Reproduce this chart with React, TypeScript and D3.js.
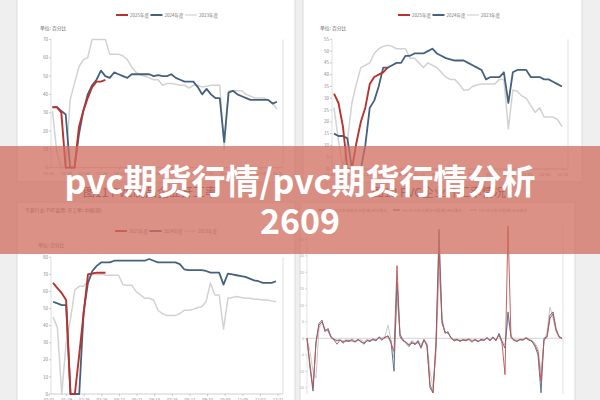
import React from 'react'
import * as d3 from 'd3'

// weekly operating rate (%), values read week by week off the picture
const red2025A = [33, 33, 30, 0, 0, 0, 22, 31, 38, 44, 47, 47, 48]
const blue2024A = [33, 33, 31, 29, 0, 0, 18, 31, 40, 45, 48, 53, 50, 49, 52, 51, 50, 49, 51, 51,
    51, 51, 51, 50, 50.5, 50, 50, 51, 49, 48, 47, 47, 47, 44, 40, 43, 40, 38, 38, 14,
    41, 42, 40, 39, 38, 37, 37, 37, 37, 37, 35, 36]
const gray2023A = [31, 8, 0, 0, 37, 46, 55, 59, 60, 70, 70, 70, 70, 62, 62, 62, 61, 59, 55, 52,
    50.6, 50, 49, 48, 48, 45, 46, 46, 45.5, 45, 45, 43.5, 45, 45, 44, 44.5, 45, 45, 45, 10,
    42, 42, 42, 42, 40, 39, 38, 38, 38, 37, 35, 32]

const red2025B = [32, 28, 18, 0, 0, 11, 20, 26, 36, 39, 40, 41, 43]
const blue2024B = [15, 14, 14, 13, 0, 0, 0, 10, 26, 29, 35, 43, 43, 44, 45, 45, 48, 48, 49, 49,
    49, 50, 51, 49, 48, 47, 46.5, 46, 46, 46, 45, 44, 43, 42, 38, 39, 39, 39, 41, 28,
    41, 42, 42, 42, 39, 39, 39, 38, 38, 37, 36, 35]
const gray2023B = [26, 12, 0, 12, 28, 36, 43, 44, 45, 49, 51, 52, 52.5, 52, 51, 51, 51, 47, 47, 45,
    43, 45, 44, 43, 41, 39, 38, 38, 36, 33.5, 33.5, 35, 35.6, 36, 36, 36, 36, 38, 38, 17,
    33.5, 33, 31, 30, 27, 24, 26, 22, 22, 22, 21, 18]

const red2025C = [65, 62, 59, 55, 0, 0, 23, 47, 70, 70.5, 71, 71, 71]
const blue2024C = [54, 53, 52, 52, 0, 0, 0, 48, 65, 72, 75, 77, 77, 77, 78, 78, 78, 78, 78, 78,
    78, 78, 79, 78, 77, 77, 77, 77, 77, 76, 73, 72.5, 72.5, 72.5, 72.5, 72, 71, 71, 71, 64,
    70.5, 70, 69.5, 69, 68.5, 67.5, 66.5, 66, 65, 65, 65, 66]
const gray2023C = [45, 39, 0, 30, 44, 61, 63, 63, 66, 70.5, 70, 70, 69.5, 69.5, 69.5, 69.5, 64, 63.7, 63.7, 60,
    58, 56, 56, 55, 49, 47, 46, 46, 46, 47, 49, 49, 49.5, 50.5, 51, 54, 65, 58, 58, 38,
    56, 56.5, 57, 56.5, 56, 56, 55.5, 55.5, 55, 55, 54.5, 54]

// week-on-week change chart (bottom right)
const redChg = [0, -8, -15, -1.5, 4, 5, 2.5, 2.5, 0.2, -0.5, -1.8, -0.6, -1, -0.9, -0.7, -0.8, -1, -0.3, -1.2, -1.4,
    -0.8, -0.6, -0.5, -0.5, 0.2, -0.6, 0.4, 0.5, -1.5, -4, 22, 0.5, -0.8, -1.2, -2, -1.5, -1.6, -1.3, -2.6, -0.4,
    -2.5, -14, -16.5, -2, 27, 4.5, 2, 1.5, 0.3, -0.8, -0.5, -0.7, -0.6, -0.5, -0.4, -1.2, -0.3, -0.9, -0.6, -0.5,
    0, -0.8, 0.2, -0.5, 1, -1.4, -11, 34, 0.2, -0.7, -0.8, -0.5, -0.4, 0, -0.6, -0.8, -2, -4, -13, -0.5,
    0.3, 6, 7.5, 2.5, 0.3, 0]
const blueChg = [0, -9, -16, -1, 4.5, 5.5, 2, 3, 0.5, -0.3, -0.8, -0.5, -1.5, -0.6, -1, -0.4, -1.2, -0.5, -0.9, -1.8,
    -0.6, -1, -0.2, -0.8, 0.4, -0.3, 0.2, 0.8, -1, -10, 17, 1, -0.5, -1.5, -2.5, -1, -2, -0.8, -3, -0.5,
    -2, -15, -16.5, -1, 33, 5.5, 1.5, 2, 0, -0.6, -0.3, -1, -0.4, -0.8, -0.2, -0.9, -0.5, -1.1, -0.3, -0.7,
    0.2, -0.6, 0.4, -0.8, 1.5, -1, -3, 8, 0.5, -0.5, -1, -0.3, -0.6, 0.2, -0.4, -1, -2.5, -5, -16.5, 0,
    0.5, 7, 8, 3, 0.5, 0]
const grayChg = [0, -4, -10, -12, 3, 5, 3, 2, 0.5, -0.2, -0.5, -0.3, -0.8, -0.4, -0.6, -0.2, -0.8, -0.4, -0.5, -1,
    -0.3, -0.7, 0, -0.5, 0.5, 0, 0.6, 4, -0.5, -6, 12, 1.5, -0.3, -1, -1.8, -0.6, -1.5, -0.5, -2, -0.3,
    -1.5, -10, -15, -5, 20, 6, 2, 1.5, 0.2, -0.4, -0.2, -0.6, -0.3, -0.5, 0, -0.6, -0.3, -0.8, -0.2, -0.4,
    0.3, -0.4, 0.5, -0.5, 1.2, -0.6, -2, 6, 0.8, -0.3, -0.6, -0.2, -0.4, 0.3, -0.2, -0.6, -1.5, -3, -10, -1,
    2, 9.5, 6, 2, 0.8, 0]

const legendLabels = ['2025年度', '2024年度', '2023年度']
const chgLegend = ['PVC:开工率:电石法:中国(周):环比变化', 'PVC:开工率:乙烯法:中国(周):环比变化', 'PVC:开工率:中国(周):环比变化']
const xLabels = ['01-01', '01-29', '02-26', '03-26', '04-23', '05-21', '06-18', '07-16', '08-13', '09-10', '10-08', '11-05', '12-03', '12-31']
const chgTicks = [-15, -10, -5, 0, 5, 10, 15, 20, 25, 30, 35]
const bannerLines = ['pvc期货行情/pvc期货行情分析', '2609']

const FONT = '"Noto Sans CJK SC", "Noto Sans", sans-serif'
const RED = '#b8322f'
const BLUE = '#45617f'
const GRAY = '#d2d2d2'

function WeeklyPanel(props) {
    const { red, blue, gray, x0, x1, yMax, yStep, yTop, yBottom, legendX, legendY, unitX, unitY, axisX, rightX, title } = props
    const x = d3.scaleLinear().domain([1, 52]).range([x0, x1])
    const y = d3.scaleLinear().domain([0, yMax]).range([yBottom, yTop])
    const line = d3.line<number>().x((d, i) => x(i + 1)).y(d => y(d))
    const xp = d3.scalePoint<string>().domain(xLabels).range([axisX - 2, rightX - 5])
    const yTicks = d3.range(0, yMax + 0.1, yStep)
    const colors = [RED, BLUE, GRAY]
    const offsets = [0, 34.5, 69]
    return (
        <g>
            {title && <text x={25} y={212} fontSize={4.8} fill="#555" fontFamily={FONT}>{title}</text>}
            {legendLabels.map((l, i) => (
                <g key={l}>
                    <line x1={legendX + offsets[i]} x2={legendX + offsets[i] + 12} y1={legendY} y2={legendY}
                          stroke={colors[i]} strokeWidth={i === 2 ? 1.2 : 2} />
                    <text x={legendX + offsets[i] + 14} y={legendY + 1.6} fontSize={4.5} fill="#777" fontFamily={FONT}>{l}</text>
                </g>
            ))}
            <text x={unitX} y={unitY} fontSize={4.8} fill="#666" fontFamily={FONT}>单位: 百分比</text>
            <line x1={axisX} x2={axisX} y1={yTop} y2={yBottom} stroke="#e0e0e0" />
            <line x1={rightX} x2={rightX} y1={yTop} y2={yBottom} stroke="#e0e0e0" />
            <line x1={axisX} x2={rightX} y1={yBottom} y2={yBottom} stroke="#cfcfcf" />
            {yTicks.map(t => (
                <g key={t}>
                    <line x1={axisX - 2} x2={axisX} y1={y(t)} y2={y(t)} stroke="#aaa" strokeWidth={0.6} />
                    <text x={axisX - 3} y={y(t) + 1.6} fontSize={4.5} fill="#888" textAnchor="end" fontFamily={FONT}>{t}</text>
                </g>
            ))}
            {xLabels.map(l => (
                <g key={l}>
                    <line x1={xp(l)} x2={xp(l)} y1={yBottom} y2={yBottom + 2} stroke="#aaa" strokeWidth={0.6} />
                    <text x={xp(l)} y={yBottom + 7} fontSize={4.2} fill="#888" textAnchor="middle" fontFamily={FONT}>{l}</text>
                </g>
            ))}
            <path d={line(gray)} fill="none" stroke={GRAY} strokeWidth={1.5} strokeLinejoin="round" />
            <path d={line(blue)} fill="none" stroke={BLUE} strokeWidth={1.8} strokeLinejoin="round" />
            <path d={line(red)} fill="none" stroke={RED} strokeWidth={1.9} strokeLinejoin="round" />
        </g>
    )
}

function ChangePanel() {
    const x = d3.scaleLinear().domain([0, redChg.length - 1]).range([307, 562])
    const y = d3.scaleLinear().domain([-15, 35]).range([387.8, 222.8])
    const line = d3.line<number>().x((d, i) => x(i)).y(d => y(d))
    const colors = ['#c0504d', '#5a7595', '#c9c9c9']
    const lx = [318, 393, 470]
    return (
        <g>
            {chgLegend.map((l, i) => (
                <g key={l}>
                    <line x1={lx[i]} x2={lx[i] + 7} y1={210} y2={210} stroke={colors[i]} strokeWidth={1.2} />
                    <text x={lx[i] + 9} y={211.5} fontSize={3.6} fill="#999" fontFamily={FONT}>{l}</text>
                </g>
            ))}
            <line x1={307} x2={307} y1={222} y2={394} stroke="#e2e2e2" />
            <line x1={563} x2={563} y1={222} y2={394} stroke="#e2e2e2" />
            <line x1={307} x2={563} y1={y(0)} y2={y(0)} stroke="#c8c8c8" strokeWidth={0.8} />
            {chgTicks.map(t => (
                <g key={t}>
                    <line x1={305} x2={307} y1={y(t)} y2={y(t)} stroke="#bbb" strokeWidth={0.5} />
                    <text x={304} y={y(t) + 1.3} fontSize={3.5} fill="#aaa" textAnchor="end" fontFamily={FONT}>{t}</text>
                </g>
            ))}
            <path d={line(grayChg)} fill="none" stroke={colors[2]} strokeWidth={1} strokeLinejoin="round" />
            <path d={line(blueChg)} fill="none" stroke={colors[1]} strokeWidth={1} strokeLinejoin="round" />
            <path d={line(redChg)} fill="none" stroke={colors[0]} strokeWidth={0.9} strokeLinejoin="round" />
        </g>
    )
}

export default function App() {
    return (
        <svg width={600} height={400} style={{ position: 'absolute', left: 0, top: 0 }}>
            <rect x={0} y={0} width={600} height={400} fill="#efefef" />
            <rect x={17} y={-4} width={278} height={186} fill="#fff" stroke="#dcdcdc" />
            <rect x={303} y={-4} width={279} height={186} fill="#fff" stroke="#dcdcdc" />
            <rect x={17} y={202} width={278} height={210} fill="#fff" stroke="#dcdcdc" />
            <rect x={300} y={202} width={275} height={210} fill="#fff" stroke="#dcdcdc" />

            <WeeklyPanel red={red2025A} blue={blue2024A} gray={gray2023A}
                         x0={52.5} x1={277} yMax={70} yStep={10} yTop={39.5} yBottom={167.6}
                         legendX={116} legendY={15} unitX={40} unitY={30} axisX={51} rightX={283} />
            <WeeklyPanel red={red2025B} blue={blue2024B} gray={gray2023B}
                         x0={334} x1={562} yMax={55} yStep={5} yTop={39.3} yBottom={169}
                         legendX={398} legendY={15} unitX={320} unitY={30} axisX={332} rightX={568} />
            <WeeklyPanel red={red2025C} blue={blue2024C} gray={gray2023C}
                         x0={53} x1={276} yMax={80} yStep={10} yTop={257.3} yBottom={394}
                         legendX={115} legendY={231} unitX={38} unitY={247} axisX={51} rightX={283}
                         title="下游行业: PVC装置: 开工率: 中国(周)" />
            <ChangePanel />

            <text x={83} y={197} fontSize={12} fill="#444" fontFamily={FONT}>图11  PVC制品企业开工率</text>
            <text x={372} y={197} fontSize={12} fill="#444" fontFamily={FONT}>图12  PVC企业开工率情况</text>

            <rect x={0} y={146} width={600} height={108} fill="#d06e60" opacity={0.76} />
            {bannerLines.map((t, i) => (
                <text key={t} x={300} y={194 + i * 40} fontSize={34} fontWeight="bold" fill="#fff"
                      textAnchor="middle" fontFamily={FONT}>{t}</text>
            ))}
        </svg>
    )
}
